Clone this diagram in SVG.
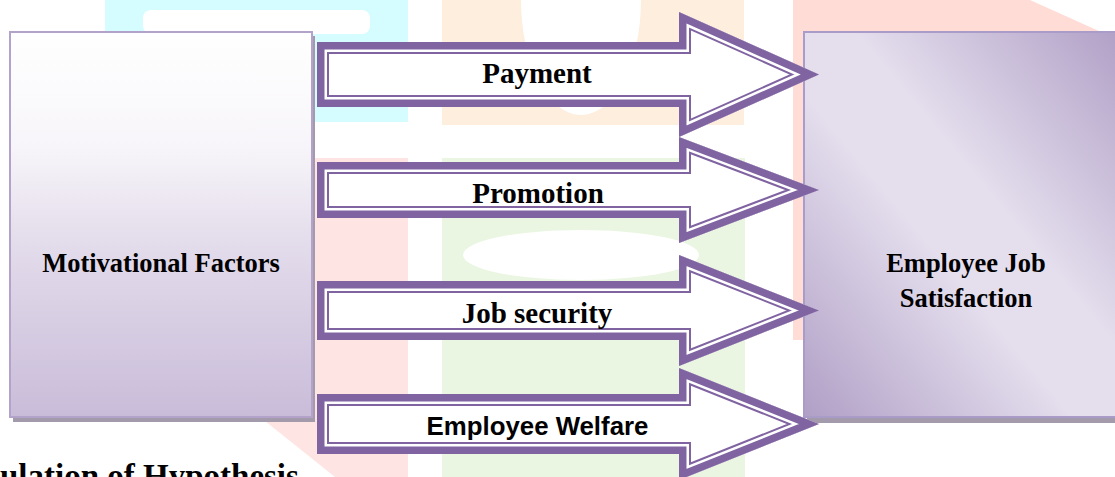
<svg xmlns="http://www.w3.org/2000/svg" xmlns:xlink="http://www.w3.org/1999/xlink" width="1115" height="477" viewBox="0 0 1115 477">
  <style>
    .serif { font-family: "Liberation Serif", "Times New Roman", serif; font-weight: bold; fill: #000; }
    .sans { font-family: "Liberation Sans", Arial, sans-serif; font-weight: bold; fill: #000; }
    .node-label { font-size: 26.5px; text-anchor: middle; }
    .arrow-label { font-size: 29px; text-anchor: middle; }
    .band-outer { fill: #ffffff; stroke: #8064a2; stroke-width: 24; stroke-linejoin: miter; stroke-miterlimit: 10; }
    .band-gap { fill: none; stroke: #ffffff; stroke-width: 20; stroke-linejoin: miter; stroke-miterlimit: 10; }
    .band-thick { fill: none; stroke: #8064a2; stroke-width: 15; stroke-linejoin: miter; stroke-miterlimit: 10; }
    .shadow { fill: #a39bab; }
  </style>
  <defs>
    <linearGradient id="gradLeft" x1="0" y1="0" x2="0" y2="1">
      <stop offset="0" stop-color="#ffffff"/>
      <stop offset="0.3" stop-color="#f7f5f9"/>
      <stop offset="0.55" stop-color="#e3dceb"/>
      <stop offset="1" stop-color="#c9bcd9"/>
    </linearGradient>
    <linearGradient id="gradRight" x1="0" y1="1" x2="1" y2="0">
      <stop offset="0" stop-color="#b09fc6"/>
      <stop offset="0.42" stop-color="#e4deed"/>
      <stop offset="0.58" stop-color="#e4deed"/>
      <stop offset="1" stop-color="#b09fc6"/>
    </linearGradient>
    <path id="a1" d="M317,42 H679 V12 L819,74.5 L679,137 V107 H317 Z"/>
    <path id="a2" d="M317,162 H679 V137 L819,190 L679,243 V218 H317 Z"/>
    <path id="a3" d="M317,281 H679 V255 L819,310.5 L679,366 V340 H317 Z"/>
    <path id="a4" d="M317,394 H679 V368 L819,424 L679,480 V454 H317 Z"/>
    <clipPath id="c1"><use xlink:href="#a1" href="#a1"/></clipPath>
    <clipPath id="c2"><use xlink:href="#a2" href="#a2"/></clipPath>
    <clipPath id="c3"><use xlink:href="#a3" href="#a3"/></clipPath>
    <clipPath id="c4"><use xlink:href="#a4" href="#a4"/></clipPath>
  </defs>

  <!-- faint watermark background -->
  <g id="watermark">
    <rect x="105" y="0" width="303" height="122" fill="#d5fcfe"/>
    <rect x="143" y="10" width="227" height="24" rx="8" fill="#ffffff"/>
    <rect x="442" y="0" width="302" height="125" fill="#fdeedd"/>
    <ellipse cx="581" cy="0" rx="60" ry="115" fill="#ffffff"/>
    <polygon points="793,0 1030,0 1110,36 1110,340 793,340" fill="#ffdcd5"/>
    <polygon points="313,158 408,158 408,477 335,477 265,421 313,421" fill="#ffe4e4"/>
    <rect x="442" y="158" width="303" height="319" fill="#eaf6e2"/>
    <ellipse cx="581" cy="255" rx="118" ry="25" fill="#ffffff"/>
  </g>

  <g id="motivational-factors">
    <rect class="shadow" x="13" y="36" width="302" height="386"/>
    <rect x="10" y="32" width="302" height="385" fill="url(#gradLeft)" stroke="#b3a3cb" stroke-width="2"/>
    <text class="serif node-label" x="161" y="272">Motivational Factors</text>
  </g>

  <g id="employee-job-satisfaction">
    <rect class="shadow" x="807" y="37" width="320" height="386"/>
    <rect x="804" y="32" width="320" height="385" fill="url(#gradRight)" stroke="#a99cc8" stroke-width="2"/>
    <text class="serif node-label" x="966" y="272">Employee Job</text>
    <text class="serif node-label" x="966" y="307">Satisfaction</text>
  </g>

  <g id="connectors">
    <g id="arrow-payment">
      <g clip-path="url(#c1)">
        <use xlink:href="#a1" href="#a1" class="band-outer"/>
        <use xlink:href="#a1" href="#a1" class="band-gap"/>
        <use xlink:href="#a1" href="#a1" class="band-thick"/>
      </g>
      <text class="serif arrow-label" x="537" y="83">Payment</text>
    </g>
    <g id="arrow-promotion">
      <g clip-path="url(#c2)">
        <use xlink:href="#a2" href="#a2" class="band-outer"/>
        <use xlink:href="#a2" href="#a2" class="band-gap"/>
        <use xlink:href="#a2" href="#a2" class="band-thick"/>
      </g>
      <text class="serif arrow-label" x="538" y="203">Promotion</text>
    </g>
    <g id="arrow-job-security">
      <g clip-path="url(#c3)">
        <use xlink:href="#a3" href="#a3" class="band-outer"/>
        <use xlink:href="#a3" href="#a3" class="band-gap"/>
        <use xlink:href="#a3" href="#a3" class="band-thick"/>
      </g>
      <text class="serif arrow-label" x="537" y="323">Job security</text>
    </g>
    <g id="arrow-employee-welfare">
      <g clip-path="url(#c4)">
        <use xlink:href="#a4" href="#a4" class="band-outer"/>
        <use xlink:href="#a4" href="#a4" class="band-gap"/>
        <use xlink:href="#a4" href="#a4" class="band-thick"/>
      </g>
      <text class="sans" x="537.5" y="435" font-size="25.8" text-anchor="middle">Employee Welfare</text>
    </g>
  </g>

  <text class="serif" x="0" y="487" font-size="33">ulation of Hypothesis</text>
</svg>
